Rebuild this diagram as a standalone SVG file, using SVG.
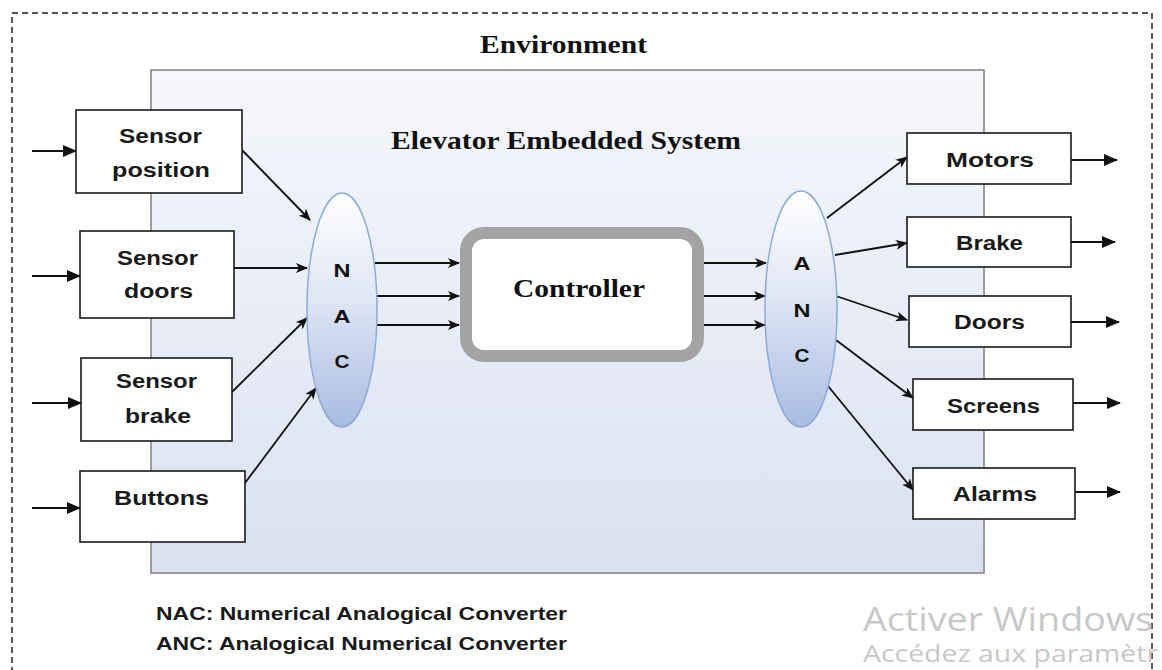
<svg xmlns="http://www.w3.org/2000/svg" width="1162" height="670" viewBox="0 0 1162 670">
<style>
.box{fill:#fff;stroke:#1a1a1a;stroke-width:1.6}
.lbl{font-family:"Liberation Sans",Arial,sans-serif;font-weight:bold;font-size:20px;fill:#1a1a1a;text-anchor:middle}
.conv{font-family:"Liberation Sans",Arial,sans-serif;font-weight:bold;font-size:19px;fill:#111;text-anchor:middle}
.serif{font-family:"Liberation Serif","Times New Roman",serif;font-weight:bold;fill:#111;text-anchor:middle}
.leg{font-family:"Liberation Sans",Arial,sans-serif;font-weight:bold;font-size:19px;fill:#1a1a1a}
.wm{font-family:"Open Sans","Liberation Sans",Arial,sans-serif;fill:#c8c8c8}
.ln{stroke:#111;stroke-width:1.8;fill:none;marker-end:url(#ah)}
.lnb{stroke:#111;stroke-width:1.8;fill:none;marker-end:url(#ahb)}
</style>
<defs>
<linearGradient id="sys" x1="0" y1="0" x2="0" y2="1">
<stop offset="0" stop-color="#f6f7fc"/>
<stop offset="1" stop-color="#d9e1f1"/>
</linearGradient>
<linearGradient id="ell" x1="0" y1="0" x2="0" y2="1">
<stop offset="0" stop-color="#ffffff"/>
<stop offset="0.45" stop-color="#dfe6f5"/>
<stop offset="1" stop-color="#a8bce2"/>
</linearGradient>
<marker id="ah" viewBox="0 0 12 10" refX="11" refY="5" markerWidth="12" markerHeight="10" markerUnits="userSpaceOnUse" orient="auto">
<path d="M0,0 L12,5 L0,10 L3,5 Z" fill="#111"/>
</marker>
<marker id="ahb" viewBox="0 0 14 12" refX="13" refY="6" markerWidth="14" markerHeight="12" markerUnits="userSpaceOnUse" orient="auto">
<path d="M0,0 L14,6 L0,12 Z" fill="#111"/>
</marker>
</defs>
<rect width="1162" height="670" fill="#fff"/>
<g id="environment">
<rect x="12" y="13" width="1140" height="700" fill="none" stroke="#222" stroke-width="1.5" stroke-dasharray="6,4"/>
<text class="serif" x="563.5" y="53" font-size="25" textLength="167" lengthAdjust="spacingAndGlyphs">Environment</text>
</g>
<g id="system">
<rect x="151" y="70" width="833" height="503" fill="url(#sys)" stroke="#7f7f7f" stroke-width="1.5"/>
<text class="serif" x="566" y="149" font-size="25" textLength="350" lengthAdjust="spacingAndGlyphs">Elevator Embedded System</text>
</g>
<g id="connectors">
<line class="lnb" x1="32" y1="151" x2="76" y2="151"/>
<line class="lnb" x1="32" y1="276" x2="80" y2="276"/>
<line class="lnb" x1="32" y1="403" x2="81" y2="403"/>
<line class="lnb" x1="32" y1="508" x2="80" y2="508"/>
<line class="ln" x1="242" y1="150" x2="310" y2="220"/>
<line class="ln" x1="232" y1="268" x2="307" y2="268"/>
<line class="ln" x1="232" y1="392" x2="307" y2="318"/>
<line class="ln" x1="242" y1="487" x2="316" y2="388"/>
<line class="ln" x1="375" y1="263" x2="459" y2="263"/>
<line class="ln" x1="377" y1="296" x2="459" y2="296"/>
<line class="ln" x1="377" y1="325" x2="459" y2="325"/>
<line class="ln" x1="704" y1="263" x2="766" y2="263"/>
<line class="ln" x1="704" y1="296" x2="765" y2="296"/>
<line class="ln" x1="704" y1="325" x2="765" y2="325"/>
<line class="ln" x1="827" y1="218" x2="907" y2="157"/>
<line class="ln" x1="835" y1="255" x2="907" y2="243"/>
<line class="ln" x1="836" y1="296" x2="907" y2="320"/>
<line class="ln" x1="836" y1="340" x2="913" y2="398"/>
<line class="ln" x1="828" y1="386" x2="913" y2="490"/>
<line class="lnb" x1="1071" y1="160" x2="1117" y2="160"/>
<line class="lnb" x1="1071" y1="242" x2="1115" y2="242"/>
<line class="lnb" x1="1071" y1="322" x2="1119" y2="322"/>
<line class="lnb" x1="1073" y1="403" x2="1120" y2="403"/>
<line class="lnb" x1="1075" y1="492" x2="1120" y2="492"/>
</g>
<g id="sensor-position">
<rect class="box" x="76" y="110" width="166" height="83"/>
<text class="lbl" x="160.5" y="143" textLength="83" lengthAdjust="spacingAndGlyphs">Sensor</text>
<text class="lbl" x="161" y="177" textLength="98" lengthAdjust="spacingAndGlyphs">position</text>
</g>
<g id="sensor-doors">
<rect class="box" x="80" y="231" width="154" height="87"/>
<text class="lbl" x="157.5" y="265" textLength="81" lengthAdjust="spacingAndGlyphs">Sensor</text>
<text class="lbl" x="158.5" y="298" textLength="69" lengthAdjust="spacingAndGlyphs">doors</text>
</g>
<g id="sensor-brake">
<rect class="box" x="81" y="358" width="151" height="83"/>
<text class="lbl" x="156.5" y="388" textLength="81" lengthAdjust="spacingAndGlyphs">Sensor</text>
<text class="lbl" x="158" y="423" textLength="66" lengthAdjust="spacingAndGlyphs">brake</text>
</g>
<g id="buttons">
<rect class="box" x="80" y="471" width="165" height="71"/>
<text class="lbl" x="161.5" y="505" textLength="95" lengthAdjust="spacingAndGlyphs">Buttons</text>
</g>
<g id="nac">
<ellipse cx="342" cy="310" rx="35" ry="117" fill="url(#ell)" stroke="#8eaadb" stroke-width="1.5"/>
<text class="conv" x="342" y="277" textLength="17" lengthAdjust="spacingAndGlyphs">N</text>
<text class="conv" x="342" y="323" textLength="17" lengthAdjust="spacingAndGlyphs">A</text>
<text class="conv" x="342" y="368" textLength="15" lengthAdjust="spacingAndGlyphs">C</text>
</g>
<g id="controller">
<rect x="466" y="233" width="232" height="123" rx="18" fill="#fff" stroke="#a3a3a3" stroke-width="12"/>
<text class="serif" x="579" y="297" font-size="25" textLength="132" lengthAdjust="spacingAndGlyphs">Controller</text>
</g>
<g id="anc">
<ellipse cx="801" cy="309" rx="36" ry="118" fill="url(#ell)" stroke="#8eaadb" stroke-width="1.5"/>
<text class="conv" x="802" y="270" textLength="17" lengthAdjust="spacingAndGlyphs">A</text>
<text class="conv" x="802" y="317" textLength="17" lengthAdjust="spacingAndGlyphs">N</text>
<text class="conv" x="802" y="362" textLength="15" lengthAdjust="spacingAndGlyphs">C</text>
</g>
<g id="motors">
<rect class="box" x="907" y="133" width="164" height="51"/>
<text class="lbl" x="990" y="167" textLength="88" lengthAdjust="spacingAndGlyphs">Motors</text>
</g>
<g id="brake">
<rect class="box" x="907" y="217" width="164" height="50"/>
<text class="lbl" x="989.5" y="250" textLength="67" lengthAdjust="spacingAndGlyphs">Brake</text>
</g>
<g id="doors">
<rect class="box" x="909" y="296" width="162" height="51"/>
<text class="lbl" x="989.5" y="329" textLength="71" lengthAdjust="spacingAndGlyphs">Doors</text>
</g>
<g id="screens">
<rect class="box" x="913" y="379" width="160" height="51"/>
<text class="lbl" x="993.5" y="413" textLength="93" lengthAdjust="spacingAndGlyphs">Screens</text>
</g>
<g id="alarms">
<rect class="box" x="913" y="468" width="162" height="51"/>
<text class="lbl" x="995" y="501" textLength="84" lengthAdjust="spacingAndGlyphs">Alarms</text>
</g>
<g id="legend">
<text class="leg" x="156" y="620" textLength="411" lengthAdjust="spacingAndGlyphs">NAC: Numerical Analogical Converter</text>
<text class="leg" x="156" y="650" textLength="411" lengthAdjust="spacingAndGlyphs">ANC: Analogical Numerical Converter</text>
</g>
<g id="watermark">
<text class="wm" x="863" y="631" font-size="32" textLength="290" lengthAdjust="spacingAndGlyphs">Activer Windows</text>
<text class="wm" x="863" y="662" font-size="23" textLength="295" lengthAdjust="spacingAndGlyphs">Accédez aux paramètr</text>
</g>
</svg>
